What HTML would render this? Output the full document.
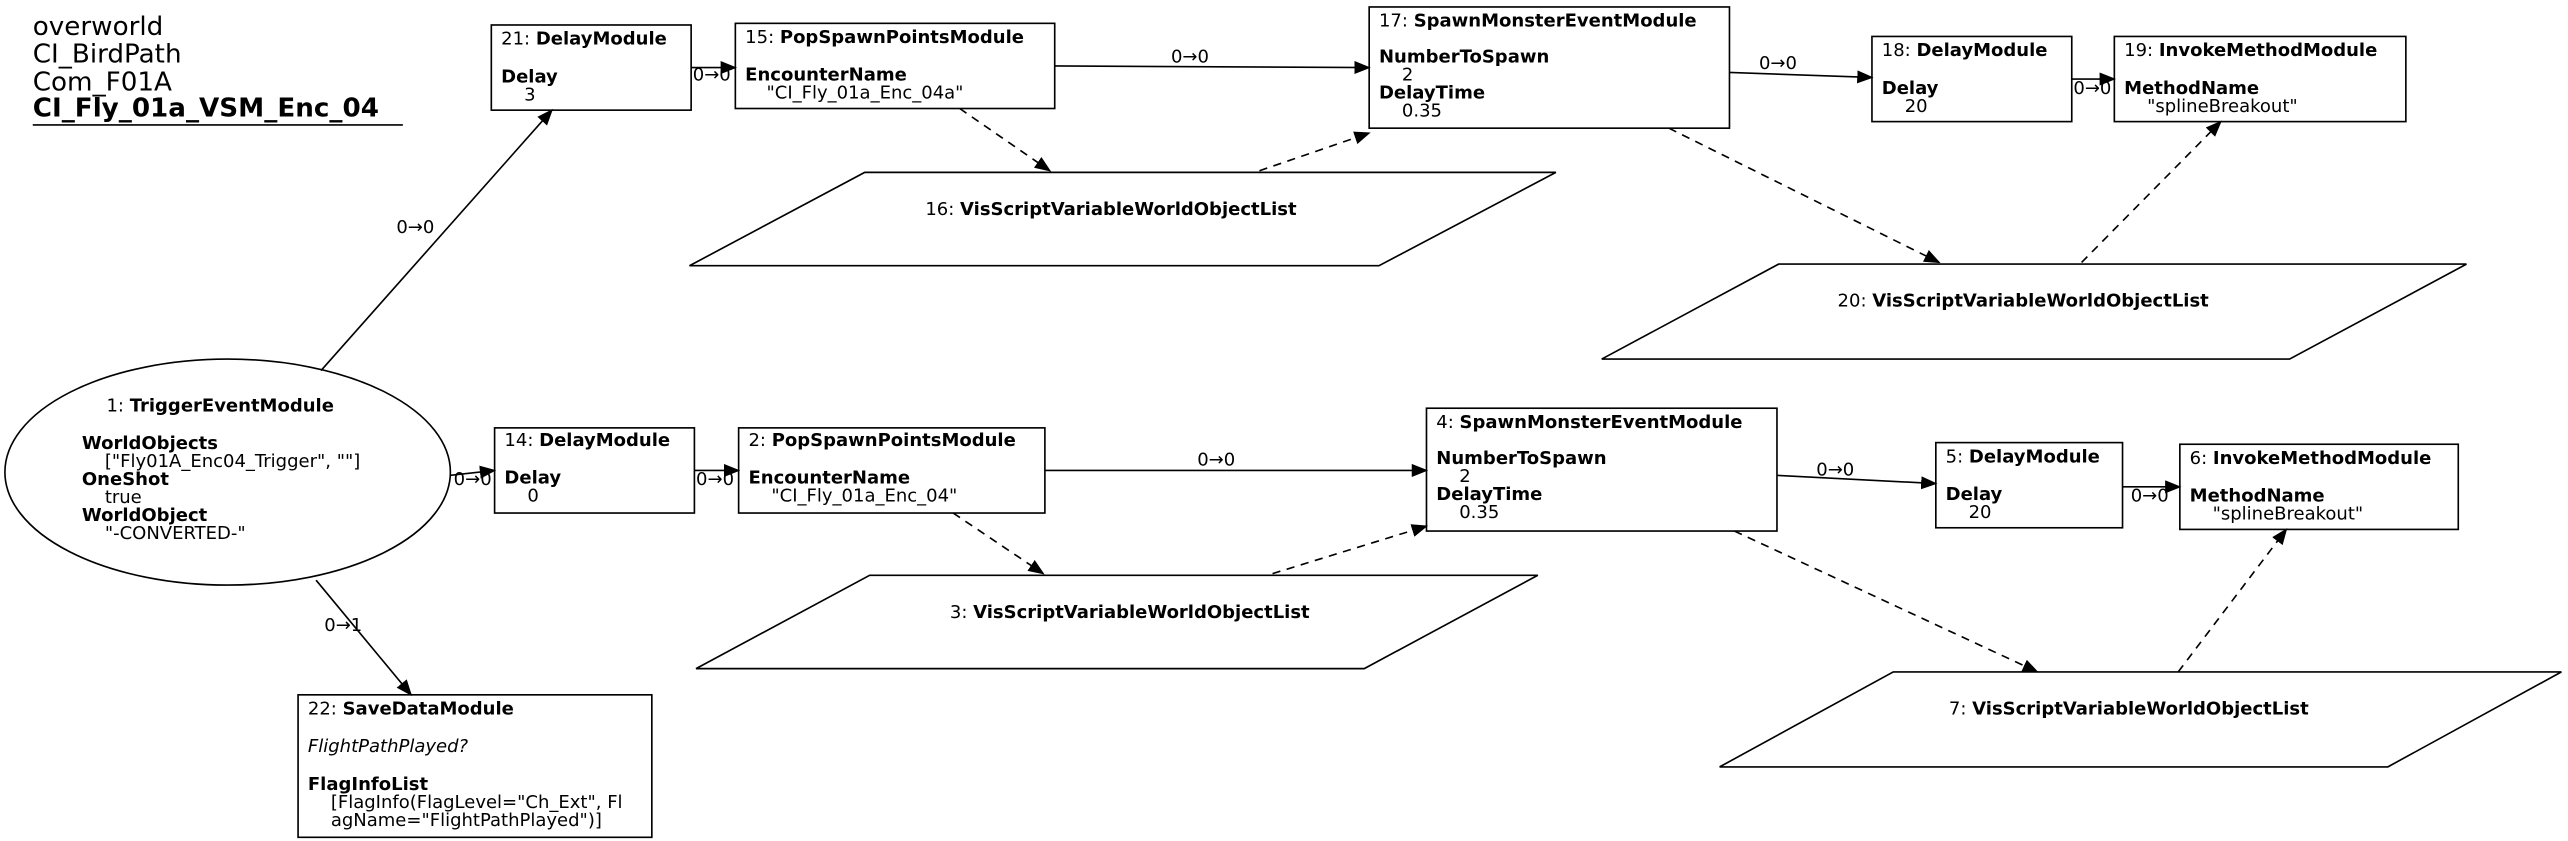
<!DOCTYPE html>
<html><head><meta charset="utf-8"><style>
html,body{margin:0;padding:0;background:#fff;}
svg{display:block;}
text{font-family:"DejaVu Sans","Liberation Sans",sans-serif;font-size:11px;fill:#000;}
.b{font-weight:bold;}
.t{font-size:16px;}
</style></head><body>
<svg width="2568" height="841" viewBox="0 0 1568 513" xmlns="http://www.w3.org/2000/svg">
<defs><marker id="a" markerWidth="10" markerHeight="8" refX="9" refY="4" orient="auto" markerUnits="userSpaceOnUse"><path d="M0,0 L10,4 L0,8z" fill="#000"/></marker></defs>
<g fill="none" stroke="#000" stroke-width="1">
<line x1="20" y1="76" x2="246" y2="76"/>
<rect x="300" y="15" width="122" height="52"/>
<rect x="449" y="14" width="195" height="52"/>
<rect x="836" y="4" width="220" height="74"/>
<rect x="1143" y="22" width="122" height="52"/>
<rect x="1291" y="22" width="178" height="52"/>
<polygon points="528,105 950,105 842,162 421,162"/>
<polygon points="1086,161 1506,161 1398,219 978,219"/>
<ellipse cx="139" cy="288" rx="136" ry="69"/>
<rect x="302" y="261" width="122" height="52"/>
<rect x="451" y="261" width="187" height="52"/>
<rect x="871" y="249" width="214" height="75"/>
<rect x="1182" y="270" width="114" height="52"/>
<rect x="1331" y="271" width="170" height="52"/>
<polygon points="531,351 939,351 833,408 425,408"/>
<polygon points="1156,410 1564,410 1458,468 1050,468"/>
<rect x="182" y="424" width="216" height="87"/>
<path d="M196,226 L337,67" marker-end="url(#a)"/>
<path d="M422,41 L449,41" marker-end="url(#a)"/>
<path d="M644,40 L836,41" marker-end="url(#a)"/>
<path d="M1056,44 L1143,47" marker-end="url(#a)"/>
<path d="M1265,48 L1291,48" marker-end="url(#a)"/>
<path d="M275,290 L302,287" marker-end="url(#a)"/>
<path d="M424,287 L451,287" marker-end="url(#a)"/>
<path d="M638,287 L871,287" marker-end="url(#a)"/>
<path d="M1085,290 L1182,295" marker-end="url(#a)"/>
<path d="M1296,297 L1331,297" marker-end="url(#a)"/>
<path d="M193,354 L251,424" marker-end="url(#a)"/>
<g stroke-dasharray="5,4">
<path d="M586,66 L641,104" marker-end="url(#a)"/>
<path d="M769,104 L836,81" marker-end="url(#a)"/>
<path d="M1019,78 L1184,160" marker-end="url(#a)"/>
<path d="M1271,160 L1356,74" marker-end="url(#a)"/>
<path d="M582,313 L637,350" marker-end="url(#a)"/>
<path d="M777,350 L871,321" marker-end="url(#a)"/>
<path d="M1059,324 L1244,410" marker-end="url(#a)"/>
<path d="M1330,410 L1396,323" marker-end="url(#a)"/>
</g>
</g>
<text class="t" x="20" y="21">overworld</text>
<text class="t" x="20" y="38">CI_BirdPath</text>
<text class="t" x="20" y="55">Com_F01A</text>
<text class="t b" x="20" y="71">CI_Fly_01a_VSM_Enc_04</text>

<text x="306" y="27">21: <tspan class="b">DelayModule</tspan></text>
<text class="b" x="306" y="50">Delay</text><text x="320" y="61">3</text>
<text x="455" y="26">15: <tspan class="b">PopSpawnPointsModule</tspan></text>
<text class="b" x="455" y="49">EncounterName</text><text x="468" y="60">"CI_Fly_01a_Enc_04a"</text>
<text x="842" y="16">17: <tspan class="b">SpawnMonsterEventModule</tspan></text>
<text class="b" x="842" y="38">NumberToSpawn</text><text x="856" y="49">2</text>
<text class="b" x="842" y="60">DelayTime</text><text x="856" y="71">0.35</text>
<text x="1149" y="34">18: <tspan class="b">DelayModule</tspan></text>
<text class="b" x="1149" y="57">Delay</text><text x="1163" y="68">20</text>
<text x="1297" y="34">19: <tspan class="b">InvokeMethodModule</tspan></text>
<text class="b" x="1297" y="57">MethodName</text><text x="1311" y="68">"splineBreakout"</text>
<text x="565" y="131">16: <tspan class="b">VisScriptVariableWorldObjectList</tspan></text>
<text x="1122" y="187">20: <tspan class="b">VisScriptVariableWorldObjectList</tspan></text>

<text x="65" y="251">1: <tspan class="b">TriggerEventModule</tspan></text>
<text class="b" x="50" y="274">WorldObjects</text><text x="64" y="285">["Fly01A_Enc04_Trigger", ""]</text>
<text class="b" x="50" y="296">OneShot</text><text x="64" y="307">true</text>
<text class="b" x="50" y="318">WorldObject</text><text x="64" y="329">"-CONVERTED-"</text>
<text x="308" y="272">14: <tspan class="b">DelayModule</tspan></text>
<text class="b" x="308" y="295">Delay</text><text x="322" y="306">0</text>
<text x="457" y="272">2: <tspan class="b">PopSpawnPointsModule</tspan></text>
<text class="b" x="457" y="295">EncounterName</text><text x="471" y="306">"CI_Fly_01a_Enc_04"</text>
<text x="877" y="261">4: <tspan class="b">SpawnMonsterEventModule</tspan></text>
<text class="b" x="877" y="283">NumberToSpawn</text><text x="891" y="294">2</text>
<text class="b" x="877" y="305">DelayTime</text><text x="891" y="316">0.35</text>
<text x="1188" y="282">5: <tspan class="b">DelayModule</tspan></text>
<text class="b" x="1188" y="305">Delay</text><text x="1202" y="316">20</text>
<text x="1337" y="283">6: <tspan class="b">InvokeMethodModule</tspan></text>
<text class="b" x="1337" y="306">MethodName</text><text x="1351" y="317">"splineBreakout"</text>
<text x="580" y="377">3: <tspan class="b">VisScriptVariableWorldObjectList</tspan></text>
<text x="1190" y="436">7: <tspan class="b">VisScriptVariableWorldObjectList</tspan></text>
<text x="188" y="436">22: <tspan class="b">SaveDataModule</tspan></text>
<text x="188" y="459" font-style="italic">FlightPathPlayed?</text>
<text class="b" x="188" y="482">FlagInfoList</text>
<text x="202" y="493">[FlagInfo(FlagLevel="Ch_Ext", Fl</text>
<text x="202" y="504">agName="FlightPathPlayed")]</text>

<text x="242" y="142">0→0</text>
<text x="423" y="49">0→0</text>
<text x="715" y="38">0→0</text>
<text x="1074" y="42">0→0</text>
<text x="1266" y="57">0→0</text>
<text x="277" y="296">0→0</text>
<text x="425" y="296">0→0</text>
<text x="731" y="284">0→0</text>
<text x="1109" y="290">0→0</text>
<text x="1301" y="306">0→0</text>
<text x="198" y="385">0→1</text>
</svg>
</body></html>
